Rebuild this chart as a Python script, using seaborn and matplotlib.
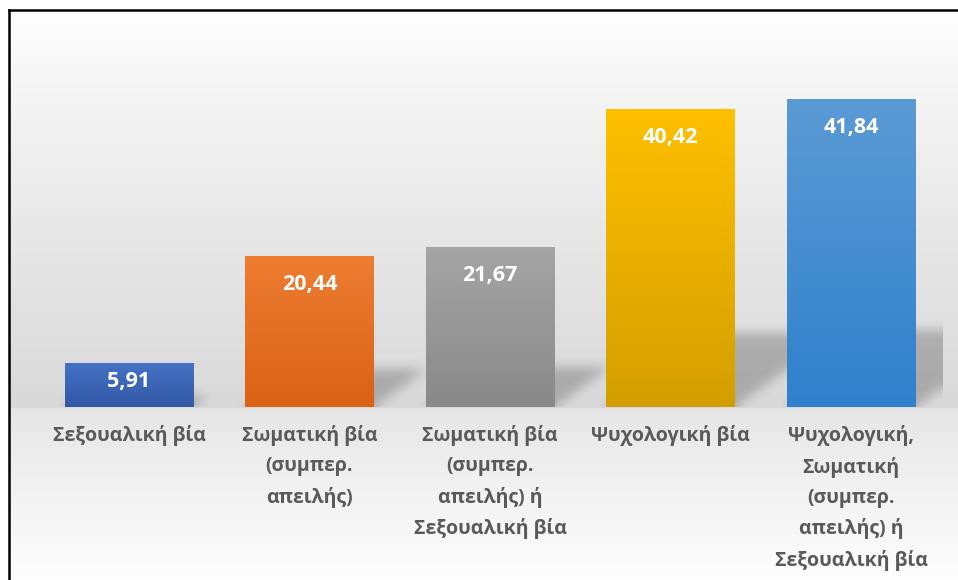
import numpy as np
import matplotlib
matplotlib.use("Agg")
import matplotlib.pyplot as plt
import matplotlib.colors as mcolors
import seaborn as sns

# Share of women reporting each form of violence (%)
categories = [
    "Σεξουαλική βία",
    "Σωματική βία\n(συμπερ.\nαπειλής)",
    "Σωματική βία\n(συμπερ.\nαπειλής) ή\nΣεξουαλική βία",
    "Ψυχολογική βία",
    "Ψυχολογική,\nΣωματική\n(συμπερ.\nαπειλής) ή\nΣεξουαλική βία",
]
values = [5.91, 20.44, 21.67, 40.42, 41.84]
value_labels = ["5,91", "20,44", "21,67", "40,42", "41,84"]

# top / bottom colour of each bar's vertical gradient
top_colors = ["#4472c4", "#ed7d31", "#a5a5a5", "#ffc000", "#5b9bd5"]
bottom_colors = ["#3258a5", "#da6214", "#898989", "#d39f00", "#3080cc"]

sns.set_theme(style="white")
plt.rcParams["font.family"] = ["Open Sans", "DejaVu Sans"]

W, H = 958, 580
fig = plt.figure(figsize=(W / 100, H / 100), dpi=100)

# ---- chart-area background: grey gradient inside a black frame ----
bg = fig.add_axes([0, 0, 1, 1], zorder=0)
bg.set_xlim(0, W)
bg.set_ylim(H, 0)
bg.axis("off")
base_px = 407
rows = np.arange(10, H)
shade = np.where(
    rows <= base_px,
    255 - 38 * ((rows - 10) / (base_px - 10)) ** 0.85,
    229 + 25 * ((rows - base_px) / (H - base_px)) ** 0.9,
)
grad = np.repeat((shade / 255.0)[:, None, None], 3, axis=2)
bg.imshow(grad, extent=(9, W, H, 10), aspect="auto", interpolation="bilinear")
bg.plot([9, 9], [H, 10], color="black", lw=1.8, solid_capstyle="projecting")
bg.plot([9, W], [10, 10], color="black", lw=1.8, solid_capstyle="projecting")

# ---- plot area ----
px_per_cat = 180.5
left_px = 129 - px_per_cat / 2
right_px = left_px + px_per_cat * len(values) + 2
ymax = 45.0
px_per_unit = 7.36
height_px = ymax * px_per_unit
ax = fig.add_axes(
    [left_px / W, (H - base_px) / H, (right_px - left_px) / W, height_px / H],
    zorder=1,
)
ax.patch.set_visible(False)
x_hi = len(values) - 0.5 + 2 / px_per_cat

positions = list(range(len(values)))
sns.barplot(x=categories, y=values, ax=ax, width=0.71, color="#4472c4",
            saturation=1, zorder=3)
for s in ax.spines.values():
    s.set_visible(False)
ax.set_yticks([])
ax.set_ylabel("")
ax.set_xlabel("")

patches = list(ax.patches)

# ---- soft cast shadows behind the bars ----
nx, ny = int(round(right_px - left_px)), int(round(height_px))
gx = -0.5 + (np.arange(nx) + 0.5) / px_per_cat          # data x of each pixel column
gy_px = (np.arange(ny) + 0.5)                            # pixels above the baseline
mask = np.zeros((ny, nx))
shear = 1.4      # horizontal px per vertical px of shadow
rise = 0.25      # shadow height relative to bar height
for p in patches:
    h_px = p.get_height() * px_per_unit
    top = rise * h_px
    x0, x1 = p.get_x(), p.get_x() + p.get_width()
    for j, yy in enumerate(gy_px):
        if yy > top:
            break
        off = shear * yy / px_per_cat
        inside = (gx >= x0 + off) & (gx <= x1 + off)
        mask[j, inside] = 1.0

def gauss_blur(a, sigma):
    r = int(3 * sigma)
    k = np.exp(-0.5 * (np.arange(-r, r + 1) / sigma) ** 2)
    k /= k.sum()
    a = np.pad(a, r, mode="edge")
    a = np.apply_along_axis(lambda m: np.convolve(m, k, mode="same"), 0, a)
    a = np.apply_along_axis(lambda m: np.convolve(m, k, mode="same"), 1, a)
    return a[r:-r, r:-r]

soft = gauss_blur(mask, 5.5)
rgba = np.zeros((ny, nx, 4))
rgba[..., 3] = 0.22 * soft
ax.imshow(rgba, extent=(-0.5, -0.5 + nx / px_per_cat, 0, ny / px_per_unit),
          origin="lower", aspect="auto", zorder=1, interpolation="bilinear")

# ---- gradient fill for each bar (lighter at the top) ----
for p, c_top, c_bot in zip(patches, top_colors, bottom_colors):
    x0, w, h = p.get_x(), p.get_width(), p.get_height()
    t = np.linspace(0, 1, 256)[:, None]
    ct, cb = np.array(mcolors.to_rgb(c_top)), np.array(mcolors.to_rgb(c_bot))
    img = (ct[None, None, :] * (1 - t[..., None]) + cb[None, None, :] * t[..., None])
    ax.imshow(img, extent=(x0, x0 + w, 0, h), origin="upper", aspect="auto",
              zorder=3.5, interpolation="bilinear")
    p.set_facecolor("none")
    p.set_edgecolor("none")
ax.set_xlim(-0.5, x_hi)
ax.set_ylim(0, ymax)

# ---- value labels inside the top of each bar ----
for p, lab in zip(patches, value_labels):
    h_px = p.get_height() * px_per_unit
    off_px = min(28, 0.42 * h_px)
    ax.text(p.get_x() + p.get_width() / 2, p.get_height() - off_px / px_per_unit,
            lab, ha="center", va="center", color="white", fontsize=15.5,
            fontweight="bold", zorder=5)

# ---- category labels ----
ax.set_xticks(positions)
ax.set_xticklabels(categories, color="#595959", fontsize=14, fontweight="bold",
                   linespacing=1.66, va="top")
ax.tick_params(axis="x", length=0, pad=13)

fig.savefig("out.png", dpi=100)
